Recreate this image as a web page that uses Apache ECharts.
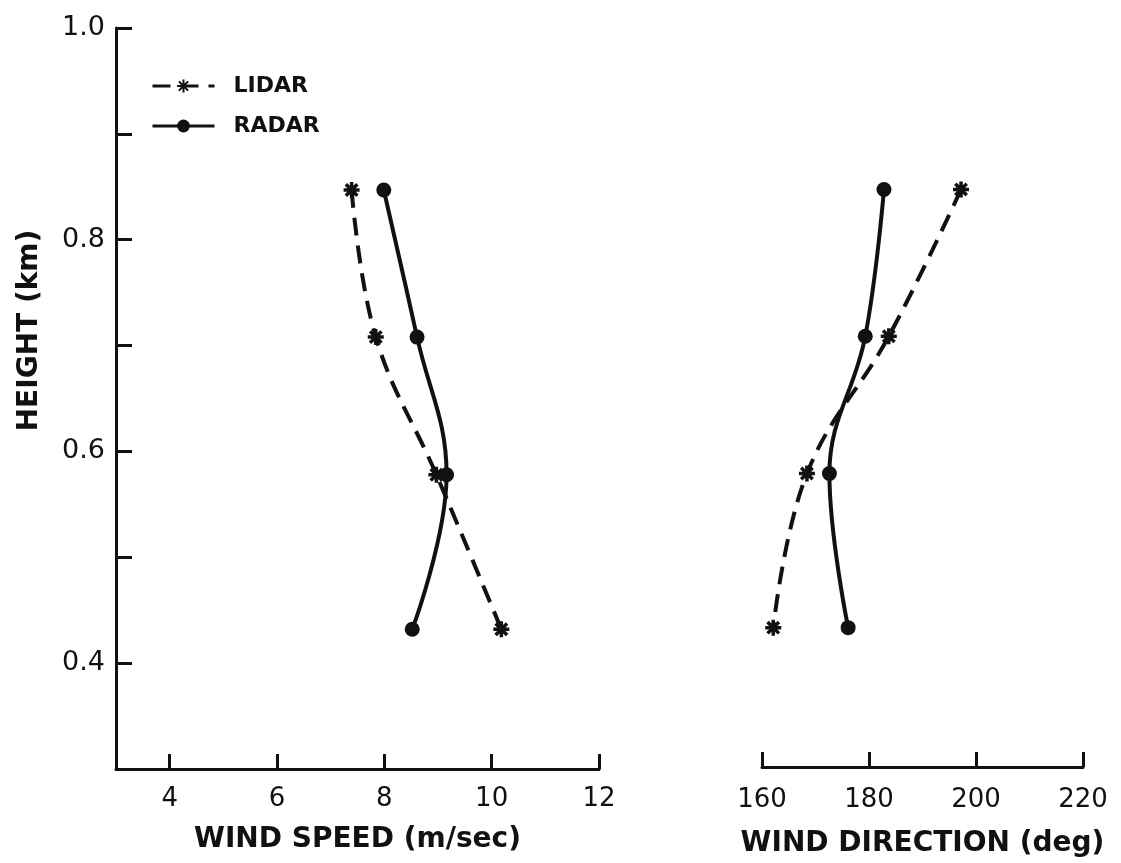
<!DOCTYPE html>
<html>
<head>
<meta charset="utf-8">
<script src="https://cdn.jsdelivr.net/npm/echarts@6/dist/echarts.min.js"></script>
<style>
  html, body { margin: 0; padding: 0; background: #fff; }
  #main { width: 1121px; height: 863px; }
</style>
</head>
<body>
<div id="main"></div>
<script>
// heights of the four sounding levels (km)
var heights = [0.847, 0.708, 0.578, 0.432];
// wind speed (m/sec)
var lidarSpeed = [7.39, 7.84, 8.97, 10.18];
var radarSpeed = [7.99, 8.61, 9.16, 8.52];
// wind direction (deg)
var lidarDir = [197.2, 183.7, 168.4, 162.1];
var radarDir = [182.8, 179.3, 172.6, 176.1];

// tick marks and labels
var heightTicks = [0.4, 0.5, 0.6, 0.7, 0.8, 0.9, 1.0];
var heightLabels = [0.4, 0.6, 0.8, 1.0];
var speedTicks = [4, 6, 8, 10, 12];
var dirTicks = [160, 180, 200, 220];

function pairs(xs, ys) {
	return xs.map(function (x, i) { return [x, ys[i]]; });
}

var ink = '#111';
var font = 'DejaVu Sans';
var star = 'path://M0,-6L0,6M-6,0L6,0M-4.3,-4.3L4.3,4.3M-4.3,4.3L4.3,-4.3';

var myChart = echarts.init(document.getElementById('main'));

function xAxisOf(gridIndex, min, max, ticks, name, gap, margin) {
	return {
		type: 'value', gridIndex: gridIndex, min: min, max: max,
		name: name, nameLocation: 'middle', nameGap: gap,
		nameTextStyle: { color: ink, fontFamily: font, fontSize: 28, fontWeight: 'bold' },
		axisLine: { onZero: false, lineStyle: { color: ink, width: 3 } },
		axisTick: { inside: true, length: 15, customValues: ticks, lineStyle: { color: ink, width: 3 } },
		axisLabel: { customValues: ticks, margin: margin, color: ink, fontFamily: font, fontSize: 26 },
		splitLine: { show: false }
	};
}

function lidarSeries(xi, data, name) {
	return {
		name: name, type: 'line', xAxisIndex: xi, yAxisIndex: xi,
		data: data, smooth: 0.4,
		symbol: star, symbolSize: 16,
		itemStyle: { color: ink, borderColor: ink, borderWidth: 3.5 },
		lineStyle: { color: ink, width: 4, type: [18, 10] }
	};
}

function radarSeries(xi, data, name) {
	return {
		name: name, type: 'line', xAxisIndex: xi, yAxisIndex: xi,
		data: data, smooth: 0.4,
		symbol: 'circle', symbolSize: 15,
		itemStyle: { color: ink },
		lineStyle: { color: ink, width: 4 }
	};
}

myChart.setOption({
	animation: false,
	backgroundColor: '#fff',
	legend: {
		orient: 'vertical', left: 146, top: 70,
		itemWidth: 62, itemHeight: 16, itemGap: 18,
		lineStyle: { width: 3 },
		textStyle: { color: ink, fontFamily: font, fontSize: 22, fontWeight: 'bold', padding: [0, 0, 0, 14] },
		data: ['LIDAR', 'RADAR']
	},
	grid: [
		{ left: 116, width: 483, top: 28, height: 741 },
		{ left: 762, width: 321, top: 28, height: 741 }
	],
	xAxis: [
		xAxisOf(0, 3, 12, speedTicks, 'WIND SPEED (m/sec)', 57, 17),
		xAxisOf(1, 160, 220, dirTicks, 'WIND DIRECTION (deg)', 63, 20)
	],
	yAxis: [
		{
			type: 'value', gridIndex: 0, min: 0.3, max: 1.0,
			name: 'HEIGHT (km)', nameLocation: 'middle', nameGap: 72,
			nameTextStyle: { color: ink, fontFamily: font, fontSize: 28, fontWeight: 'bold', padding: [0, 0, 0, 136] },
			axisLine: { show: true, lineStyle: { color: ink, width: 3 } },
			axisTick: { show: true, inside: true, length: 16, customValues: heightTicks, lineStyle: { color: ink, width: 3 } },
			axisLabel: {
				customValues: heightLabels, margin: 11, color: ink, fontFamily: font, fontSize: 27,
				formatter: function (v) { return v.toFixed(1); }
			},
			splitLine: { show: false }
		},
		{ type: 'value', gridIndex: 1, min: 0.3, max: 1.0, show: false }
	],
	series: [
		lidarSeries(0, pairs(lidarSpeed, heights), 'LIDAR'),
		radarSeries(0, pairs(radarSpeed, heights), 'RADAR'),
		lidarSeries(1, pairs(lidarDir, heights), 'LIDAR'),
		radarSeries(1, pairs(radarDir, heights), 'RADAR')
	]
});
window.onresize = function () {
	myChart.resize();
};
</script>
</body>
</html>
